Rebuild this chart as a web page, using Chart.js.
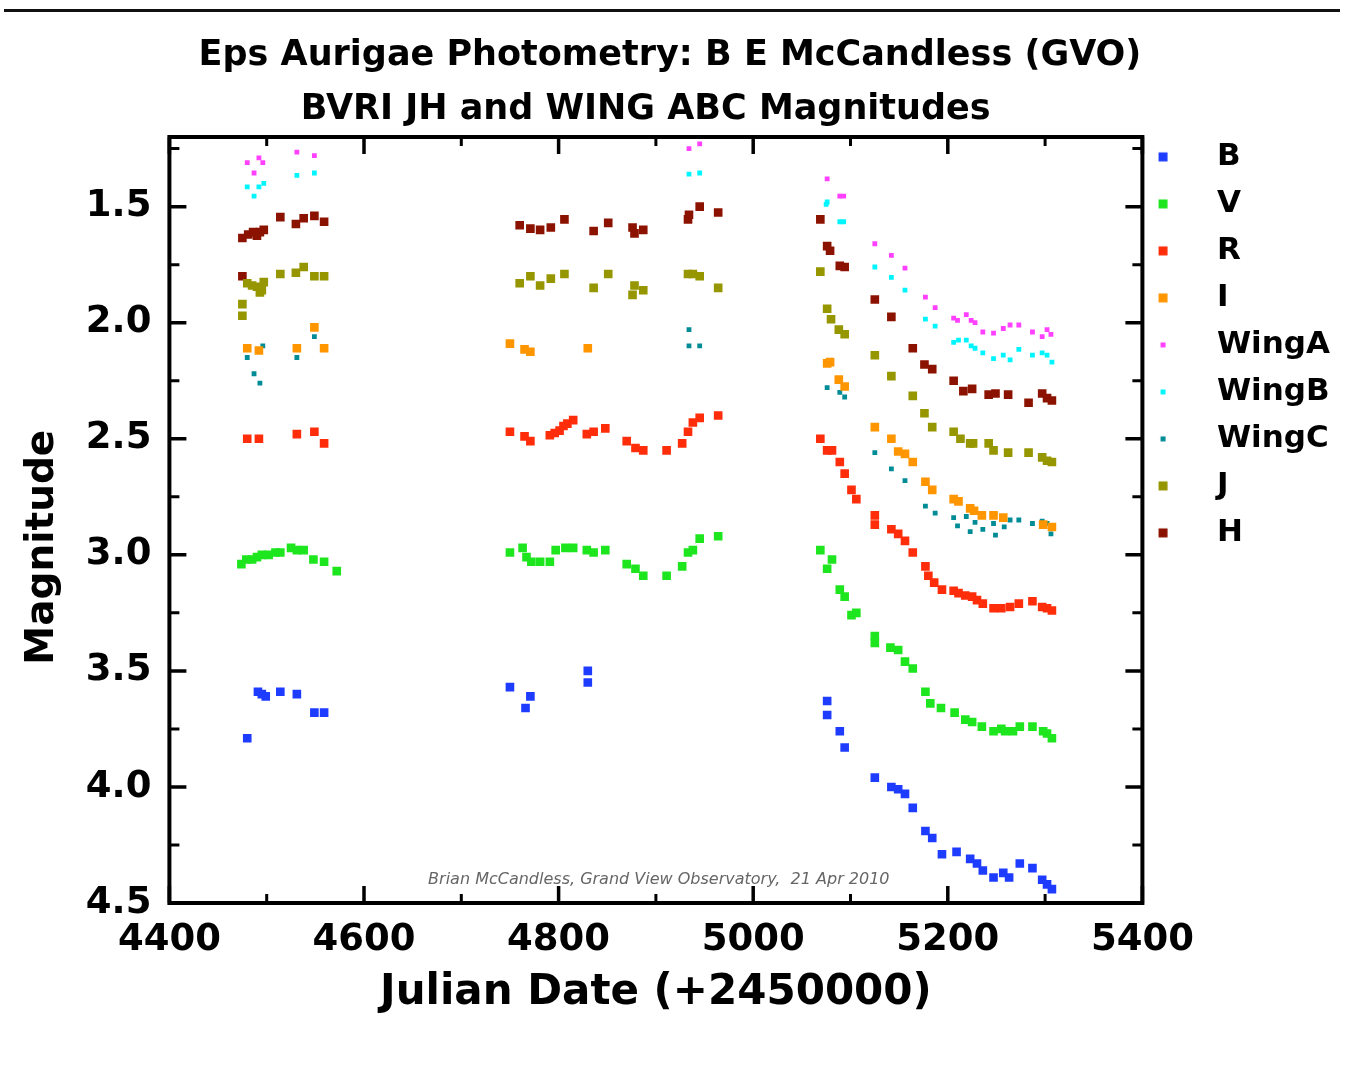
<!DOCTYPE html>
<html>
<head>
<meta charset="utf-8">
<script src="https://cdn.jsdelivr.net/npm/chart.js@4/dist/chart.umd.min.js"></script>
<style>
html, body { margin: 0; padding: 0; background: #ffffff; }
#wrap { position: relative; width: 1345px; height: 1074px; overflow: hidden; }
#c { position: absolute; left: 0; top: 0; }
#topline { position: absolute; left: 4px; top: 9px; width: 1336px; height: 3px; background: #111; }
</style>
</head>
<body>
<div id="wrap"><canvas id="c" width="1345" height="1074"></canvas><div id="topline"></div></div>
<script>
// ---------------- data (Julian Date - 2450000, magnitude) ----------------
const bDates = [4480,4491,4495,4499,4514,4531,4549,4559, 4750,4766,4771,4830,4830, 5076,5076,5089,5094,5125,5142,5149,5156,5164,5177,5184,5194,5209,5223,5230,5236,5247,5257,5263,5274,5287,5297,5302,5307];
const bMags  = [3.79,3.59,3.60,3.61,3.59,3.60,3.68,3.68, 3.57,3.66,3.61,3.50,3.55, 3.63,3.69,3.76,3.83,3.96,4.00,4.01,4.03,4.09,4.19,4.22,4.29,4.28,4.31,4.33,4.36,4.39,4.37,4.39,4.33,4.35,4.40,4.42,4.44];

const vDates = [4474,4479,4485,4490,4495,4502,4509,4514,4525,4531,4538,4548,4559,4572,
                4750,4763,4767,4772,4781,4791,4797,4807,4815,4829,4836,4848,4870,4879,4887,4911,4927,4933,4938,4945,4964,
                5069,5076,5081,5089,5094,5101,5106,5125,5125,5141,5149,5156,5164,5177,5182,5193,5207,5218,5225,5235,5247,5255,5259,5267,5274,5287,5298,5302,5307];
const vMags  = [3.04,3.02,3.02,3.01,3.00,3.00,2.99,2.99,2.97,2.98,2.98,3.02,3.03,3.07,
                2.99,2.97,3.01,3.03,3.03,3.03,2.98,2.97,2.97,2.98,2.99,2.98,3.04,3.06,3.09,3.09,3.05,2.99,2.98,2.93,2.92,
                2.98,3.06,3.02,3.15,3.18,3.26,3.25,3.35,3.38,3.40,3.41,3.46,3.49,3.59,3.64,3.66,3.68,3.71,3.72,3.74,3.76,3.75,3.76,3.76,3.74,3.74,3.76,3.77,3.79];

const rDates = [4480,4492,4531,4549,4559,
                4750,4765,4771,4791,4796,4801,4805,4809,4815,4829,4836,4848,4870,4879,4887,4911,4927,4933,4938,4945,4964,
                5069,5076,5081,5089,5094,5101,5106,5125,5125,5142,5149,5156,5164,5177,5180,5186,5194,5206,5211,5218,5225,5230,5236,5247,5255,5264,5273,5287,5297,5302,5307];
const rMags  = [2.50,2.50,2.48,2.47,2.52,
                2.47,2.49,2.51,2.485,2.475,2.465,2.445,2.435,2.42,2.48,2.47,2.455,2.51,2.54,2.55,2.55,2.52,2.47,2.43,2.41,2.40,
                2.50,2.55,2.55,2.60,2.65,2.72,2.76,2.83,2.87,2.89,2.91,2.94,2.99,3.05,3.09,3.12,3.15,3.155,3.165,3.175,3.18,3.195,3.21,3.23,3.23,3.225,3.21,3.20,3.225,3.23,3.24];

const iDates = [4480,4492,4531,4549,4559, 4750,4765,4771,4830,
                5076,5079,5088,5094,5125,5142,5149,5156,5164,5177,5184,5206,5211,5223,5227,5235,5247,5257,5298,5307];
const iMags  = [2.11,2.12,2.11,2.02,2.11, 2.09,2.115,2.125,2.11,
                2.175,2.17,2.245,2.275,2.45,2.50,2.555,2.565,2.60,2.685,2.72,2.76,2.77,2.80,2.81,2.83,2.83,2.84,2.87,2.88];

const waDates = [4480,4487,4492,4496,4531,4549, 4934,4945,
                 5076,5089,5093,5125,5142,5156,5177,5187,5206,5210,5219,5224,5228,5236,5247,5257,5264,5273,5287,5297,5302,5306];
const waMags  = [1.31,1.355,1.29,1.31,1.265,1.28, 1.25,1.23,
                 1.38,1.455,1.455,1.66,1.71,1.765,1.89,1.935,1.98,1.99,1.965,1.99,2.00,2.04,2.045,2.025,2.01,2.01,2.04,2.06,2.03,2.05];

const wbDates = [4480,4487,4492,4497,4531,4549, 4934,4945,
                 5075,5076,5089,5093,5125,5142,5156,5177,5187,5206,5211,5219,5224,5228,5236,5247,5257,5264,5273,5287,5297,5302,5307];
const wbMags  = [1.415,1.455,1.415,1.40,1.365,1.355, 1.36,1.355,
                 1.49,1.48,1.565,1.565,1.76,1.805,1.86,1.985,2.015,2.085,2.075,2.075,2.10,2.11,2.13,2.155,2.14,2.16,2.115,2.14,2.13,2.14,2.17];

const wcDates = [4480,4487,4493,4496,4531,4549, 4934,4934,4945,
                 5076,5089,5094,5125,5142,5156,5177,5187,5206,5210,5219,5223,5228,5236,5247,5249,5258,5264,5273,5287,5297,5302,5306];
const wcMags  = [2.15,2.22,2.26,2.10,2.15,2.06, 2.03,2.10,2.10,
                 2.28,2.30,2.32,2.56,2.63,2.68,2.79,2.82,2.84,2.875,2.835,2.90,2.86,2.89,2.865,2.915,2.88,2.85,2.85,2.865,2.855,2.865,2.91];

const jDates = [4475,4475,4480,4485,4490,4493,4495,4497,4514,4530,4538,4549,4559,
                4760,4771,4781,4792,4806,4836,4851,4876,4878,4887,4933,4938,4945,4964,
                5069,5076,5080,5088,5094,5125,5142,5164,5176,5184,5206,5213,5223,5226,5242,5247,5262,5283,5297,5302,5307];
const jMags  = [1.92,1.97,1.83,1.84,1.845,1.87,1.86,1.825,1.79,1.785,1.76,1.80,1.80,
                1.83,1.80,1.84,1.81,1.79,1.85,1.79,1.88,1.84,1.86,1.79,1.79,1.80,1.85,
                1.78,1.94,1.985,2.03,2.05,2.14,2.23,2.315,2.39,2.45,2.47,2.50,2.52,2.52,2.52,2.55,2.56,2.56,2.58,2.595,2.60];

const hDates = [4475,4475,4481,4486,4490,4493,4497,4514,4530,4538,4549,4559,
                4760,4771,4781,4792,4806,4836,4851,4876,4878,4887,4933,4934,4945,4964,
                5069,5076,5079,5089,5094,5125,5142,5164,5176,5184,5206,5216,5225,5242,5249,5262,5283,5297,5302,5307];
const hMags  = [1.80,1.635,1.62,1.61,1.625,1.61,1.60,1.545,1.575,1.55,1.54,1.565,
                1.58,1.595,1.60,1.59,1.555,1.605,1.57,1.59,1.615,1.60,1.555,1.535,1.50,1.525,
                1.555,1.67,1.69,1.755,1.76,1.90,1.975,2.11,2.18,2.20,2.25,2.295,2.285,2.31,2.305,2.31,2.345,2.305,2.325,2.335];

// tick labels
const xTickLabels = [4400, 4600, 4800, 5000, 5200, 5400];
const xMinorTicks = [4500, 4700, 4900, 5100, 5300];
const yTickLabels = [1.5, 2.0, 2.5, 3.0, 3.5, 4.0, 4.5];
const yMinorTicks = [1.25, 1.75, 2.25, 2.75, 3.25, 3.75, 4.25];

const seriesNames  = ['B', 'V', 'R', 'I', 'WingA', 'WingB', 'WingC', 'J', 'H'];
const seriesColors = ['#1e3cff', '#1ee61e', '#ff2d0a', '#ff9600', '#ff40ff', '#00f5ff', '#008c96', '#969600', '#8c1200'];
const seriesDates  = [bDates, vDates, rDates, iDates, waDates, wbDates, wcDates, jDates, hDates];
const seriesMags   = [bMags, vMags, rMags, iMags, waMags, wbMags, wcMags, jMags, hMags];
const isWing       = [false, false, false, false, true, true, true, false, false];

const noteText = 'Brian McCandless, Grand View Observatory,  21 Apr 2010';

// ---------------- styling ----------------
const FONT = '"DejaVu Sans", Verdana, sans-serif';
const legendFontSize = 31;
const legendPad = 16;
const legendBoxW = 43;
const targetRight = 1142.4;

// compute legend width so that the plot area ends at targetRight
const mctx = document.createElement('canvas').getContext('2d');
mctx.font = 'bold ' + legendFontSize + 'px ' + FONT;
let maxTextW = 0;
seriesNames.forEach(n => { maxTextW = Math.max(maxTextW, mctx.measureText(n).width); });
const legendW = legendPad + legendBoxW + legendFontSize / 2 + maxTextW + 10;
const rightPad = Math.max(0, 1345 - legendW - targetRight);

// legend icons (small squares placed near the left of the legend box)
function makeIcon(color, side) {
  const c = document.createElement('canvas');
  c.width = 44; c.height = 14;
  const g = c.getContext('2d');
  g.fillStyle = color;
  const cx = 22 - 16.9;
  g.fillRect(cx - side / 2, 7 - side / 2, side, side);
  return c;
}
const legendIcons = seriesColors.map((c, i) => makeIcon(c, isWing[i] ? 5 : 9));

const datasets = seriesNames.map((name, i) => ({
  label: name,
  data: seriesDates[i].map((d, k) => ({ x: d, y: seriesMags[i][k] })),
  pointStyle: 'rect',
  pointRadius: isWing[i] ? 3.4 : 6.1,
  pointBorderWidth: 0,
  pointBackgroundColor: seriesColors[i],
  borderColor: seriesColors[i],
  backgroundColor: seriesColors[i],
  showLine: false
}));

const framePlugin = {
  id: 'frame',
  afterDatasetsDraw(chart) {
    const { ctx, chartArea: a, scales } = chart;
    const xs = scales.x, ys = scales.y;
    ctx.save();
    ctx.strokeStyle = '#000';
    ctx.lineCap = 'butt';
    const xt = (vals, len, w) => {
      ctx.lineWidth = w;
      vals.forEach(v => {
        const px = xs.getPixelForValue(v);
        ctx.beginPath();
        ctx.moveTo(px, a.bottom); ctx.lineTo(px, a.bottom - len);
        ctx.moveTo(px, a.top); ctx.lineTo(px, a.top + len);
        ctx.stroke();
      });
    };
    const yt = (vals, len, w) => {
      ctx.lineWidth = w;
      vals.forEach(v => {
        const py = ys.getPixelForValue(v);
        ctx.beginPath();
        ctx.moveTo(a.left, py); ctx.lineTo(a.left + len, py);
        ctx.moveTo(a.right, py); ctx.lineTo(a.right - len, py);
        ctx.stroke();
      });
    };
    xt(xTickLabels, 17, 3.5);
    xt(xMinorTicks, 9, 3);
    yt(yTickLabels, 17, 3.5);
    yt(yMinorTicks, 10, 3);
    ctx.lineWidth = 4;
    ctx.strokeRect(a.left, a.top, a.right - a.left, a.bottom - a.top);
    // credit note
    ctx.font = 'italic 16px ' + FONT;
    ctx.fillStyle = '#666';
    ctx.textAlign = 'center';
    ctx.textBaseline = 'middle';
    ctx.fillText(noteText, a.left + (a.right - a.left) * 0.503, a.bottom - 23);
    ctx.restore();
  }
};

new Chart(document.getElementById('c'), {
  type: 'scatter',
  data: { datasets },
  plugins: [framePlugin],
  options: {
    responsive: false,
    animation: false,
    events: [],
    layout: { padding: { left: 0, top: 0, bottom: 0, right: rightPad } },
    scales: {
      x: {
        type: 'linear',
        min: 4400, max: 5400,
        afterBuildTicks: ax => { ax.ticks = xTickLabels.map(v => ({ value: v })); },
        afterFit: ax => { ax.height = 171; },
        grid: { display: false, drawTicks: false },
        border: { display: false },
        ticks: { autoSkip: false, maxRotation: 0, padding: 15, color: '#000',
                 font: { family: FONT, size: 37, weight: 'bold' },
                 callback: v => String(v) },
        title: { display: true, text: 'Julian Date (+2450000)', color: '#000',
                 font: { family: FONT, size: 42, weight: 'bold' }, padding: { top: 0, bottom: 56 } }
      },
      y: {
        type: 'linear',
        reverse: true,
        min: 1.2, max: 4.5,
        afterBuildTicks: ax => { ax.ticks = yTickLabels.map(v => ({ value: v })); },
        afterFit: ax => { ax.width = 169.4; },
        grid: { display: false, drawTicks: false },
        border: { display: false },
        ticks: { autoSkip: false, padding: 18, color: '#000',
                 font: { family: FONT, size: 37, weight: 'bold' },
                 callback: v => Number(v).toFixed(1) },
        title: { display: true, text: 'Magnitude    ', color: '#000',
                 font: { family: FONT, size: 39, weight: 'bold' }, padding: { top: 19, bottom: 0 } }
      }
    },
    plugins: {
      title: {
        display: true,
        text: 'Eps Aurigae Photometry: B E McCandless (GVO)',
        color: '#000',
        font: { family: FONT, size: 35, weight: 'bold' },
        padding: { top: 35, bottom: 0 }
      },
      subtitle: {
        display: true,
        text: 'BVRI JH and WING ABC Magnitudes    ',
        color: '#000',
        font: { family: FONT, size: 35, weight: 'bold' },
        padding: { top: 12, bottom: 6 }
      },
      legend: {
        display: true,
        position: 'right',
        align: 'start',
        title: { display: true, text: '', font: { size: 12 }, padding: { top: 111, bottom: 0 } },
        labels: {
          usePointStyle: true,
          pointStyleWidth: legendBoxW,
          padding: legendPad,
          color: '#000',
          font: { family: FONT, size: legendFontSize, weight: 'bold' },
          generateLabels: chart => {
            const items = Chart.defaults.plugins.legend.labels.generateLabels(chart);
            items.forEach((it, i) => { it.pointStyle = legendIcons[i]; it.lineWidth = 0; });
            return items;
          }
        }
      },
      tooltip: { enabled: false }
    }
  }
});
</script>
</body>
</html>
